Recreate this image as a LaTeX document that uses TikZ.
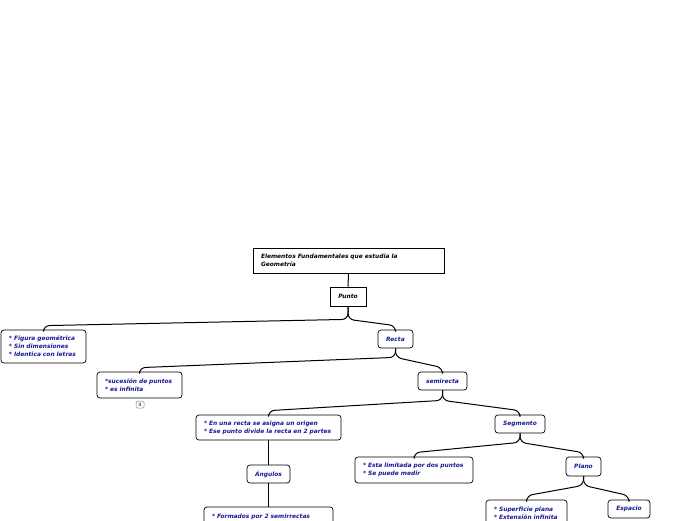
\documentclass[tikz,border=0pt]{standalone}
\usepackage{fontspec}
\setmainfont{DejaVu Sans}
\definecolor{txtblue}{RGB}{24,24,150}
\tikzset{
  box/.style={draw=black, line width=0.7pt, fill=white, rounded corners=3pt,
    font=\fontsize{5.9}{8}\selectfont\bfseries\itshape, text=txtblue,
    inner xsep=0pt, inner ysep=0pt, anchor=center},
  sqbox/.style={box, rounded corners=0pt, text=black},
  conn/.style={draw=black, line width=1pt, rounded corners=6pt},
  badge/.style={draw=gray, line width=0.5pt, rounded corners=1.5pt, fill=white,
    font=\fontsize{4.5}{4.5}\selectfont\bfseries, text=black!70, minimum width=8pt, minimum height=7pt, inner sep=0pt}
}
\newcommand\lbox[6]{% name, cx, cy, w, h, text
  \node[box, minimum width=#4pt, minimum height=#5pt, text width=#4pt-16pt, align=left]
    (#1) at (#2,#3) {#6};}
\newcommand\cbox[6]{%
  \node[box, minimum width=#4pt, minimum height=#5pt, align=center] (#1) at (#2,#3) {#6};}
\newcommand\linkto[3]{%
  \draw[conn] (#1.south) -- ++(0,#3) -- ([yshift=4pt]#2.north) -- (#2.north);}
\begin{document}
\begin{tikzpicture}[x=1pt,y=-1pt]
\useasboundingbox (0,0) rectangle (696,520);
% nodes
\node[sqbox, minimum width=191pt, minimum height=25pt, text width=175pt, align=left]
  (title) at (348.5,260.5) {Elementos Fundamentales que estudia la\\Geometría};
\node[sqbox, minimum width=36pt, minimum height=19pt] (punto) at (348,296.5) {Punto};
\lbox{fig}{43.5}{346.5}{85}{33}{* Figura geométrica\\{}* Sin dimensiones\\{}* Identica con letras}
\cbox{recta}{395.5}{339}{35}{18}{Recta}
\lbox{suc}{139.5}{385}{85}{26}{*sucesión de puntos\\{}* es infinita}
\node[badge] (b3) at (140,404.5) {3};
\cbox{semi}{442.5}{381}{49}{18}{semirecta}
\lbox{orig}{268.5}{427.5}{145}{25}{* En una recta se asigna un origen\\{}* Ese punto divide la recta en 2 partes}
\cbox{seg}{520}{424}{50}{18}{Segmento}
\cbox{ang}{268.5}{474}{43}{18}{Ángulos}
\lbox{form}{268.5}{520}{129}{26}{* Formados por 2 semirrectas\\\mbox{}}
\lbox{lim}{414}{470}{118}{26}{* Esta limitada por dos puntos\\{}* Se puede medir}
\cbox{plano}{583.5}{466.5}{35}{19}{Plano}
\lbox{sup}{526.5}{513}{81}{26}{* Superficie plana\\{}* Extensión infinita}
\cbox{esp}{629}{509}{42}{18}{Espacio}
% connectors
\draw[conn] (title.south) -- (punto.north);
\linkto{punto}{fig}{13}
\linkto{punto}{recta}{13}
\linkto{recta}{suc}{9}
\linkto{recta}{semi}{9}
\linkto{semi}{orig}{10}
\linkto{semi}{seg}{10}
\draw[conn] (orig.south) -- (ang.north);
\draw[conn] (ang.south) -- (form.north);
\linkto{seg}{lim}{9}
\linkto{seg}{plano}{9}
\linkto{plano}{sup}{9}
\linkto{plano}{esp}{9}
\end{tikzpicture}
\end{document}
